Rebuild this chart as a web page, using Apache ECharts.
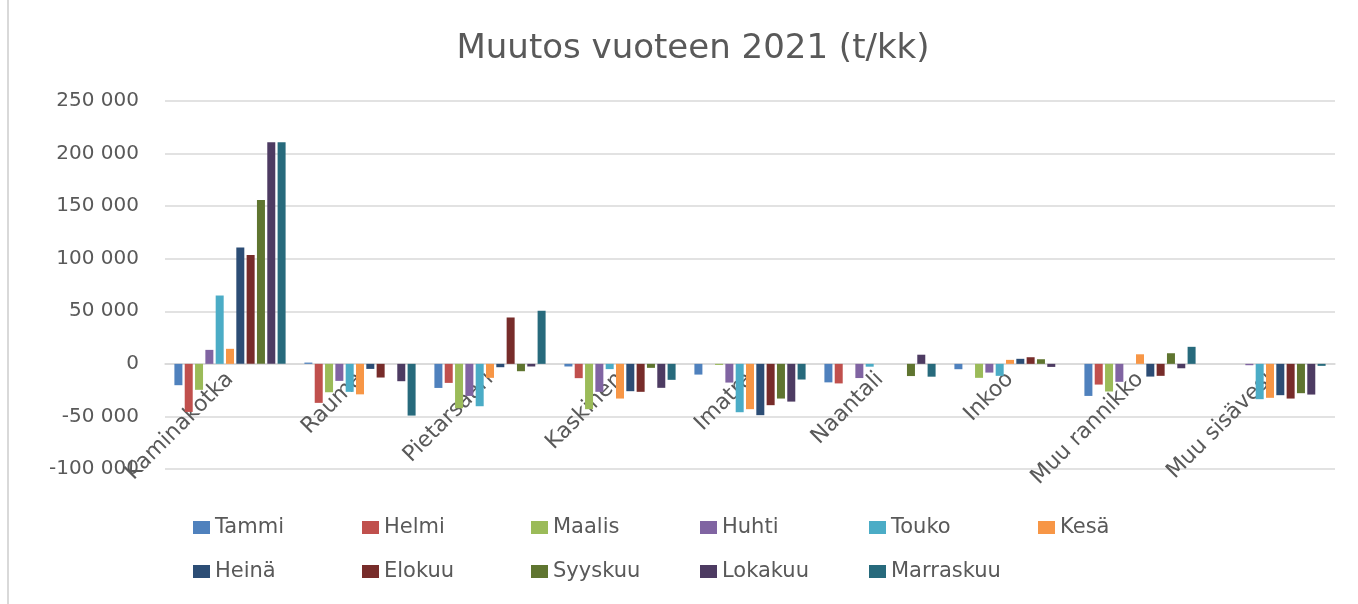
<!DOCTYPE html>
<html>
<head>
<meta charset="utf-8">
<script src="https://cdn.jsdelivr.net/npm/echarts@6/dist/echarts.min.js"></script>
<style>
  html, body { margin: 0; padding: 0; background: #fff; }
  #chart { width: 1358px; height: 604px; }
  #edge { position: absolute; left: 7px; top: 0; width: 2px; height: 604px; background: #d9d9d9; }
</style>
</head>
<body>
<div id="edge"></div>
<div id="chart"></div>
<script>
var categories = ["Kaminakotka", "Rauma", "Pietarsaari", "Kaskinen", "Imatra", "Naantali", "Inkoo", "Muu rannikko", "Muu sisävesi"];

var months = ["Tammi", "Helmi", "Maalis", "Huhti", "Touko", "Kesä", "Heinä", "Elokuu", "Syyskuu", "Lokakuu", "Marraskuu"];

var tammi     = [-20300, 1200, -22900, -2500, -10200, -17600, -5100, -30500, 0];
var helmi     = [-45700, -37100, -18100, -13600, 0, -18600, 0, -19700, 0];
var maalis    = [-24700, -27000, -42200, -43100, -1000, 0, -13300, -26300, 0];
var huhti     = [13300, -16200, -30500, -26600, -17800, -13500, -8300, -17100, -1300];
var touko     = [65000, -26600, -40300, -5000, -46000, -2700, -11400, 0, -33600];
var kesa      = [14300, -29000, -13300, -33000, -43100, 0, 3800, 9100, -32300];
var heina     = [110700, -4800, -3200, -26000, -48800, 0, 4800, -12100, -29800];
var elokuu    = [103500, -13000, 44100, -26600, -39300, 0, 6300, -11400, -33000];
var syyskuu   = [155800, 0, -7000, -3800, -33000, -11600, 4400, 10100, -27900];
var lokakuu   = [210700, -16500, -2500, -22800, -35900, 8700, -2900, -4200, -29200];
var marraskuu = [210700, -49200, 50500, -15200, -14900, -12200, 0, 16200, -1900];

var values = [tammi, helmi, maalis, huhti, touko, kesa, heina, elokuu, syyskuu, lokakuu, marraskuu];

var colors = ["#4F81BD", "#C0504D", "#9BBB59", "#8064A2", "#4BACC6", "#F79646",
              "#2C4D75", "#772C2A", "#5F7530", "#4D3B62", "#276A7C"];

var font = "DejaVu Sans";
var textColor = "#595959";

var yMin = -100000, yMax = 250000;
var gridTop = 101, gridBottom = 135;
var plotHeight = 604 - gridTop - gridBottom;
// lift the category axis up to the zero line (labels sit there in the original)
var zeroOffset = -plotHeight * (0 - yMin) / (yMax - yMin);

var chart = echarts.init(document.getElementById("chart"));

var series = [];
var legends = [];
for (var i = 0; i < months.length; i++) {
  series.push({
    name: months[i],
    type: "bar",
    data: values[i],
    barWidth: 8,
    barGap: "29%",
    itemStyle: { color: colors[i] }
  });
  // one legend per item so the columns line up like the original
  legends.push({
    data: [months[i]],
    left: 193 + (i % 6) * 169,
    top: i < 6 ? 517 : 561,
    padding: 0,
    icon: "rect",
    itemWidth: 17,
    itemHeight: 13,
    itemGap: 0,
    textStyle: { fontFamily: font, fontSize: 21, color: textColor }
  });
}

var option = {
  animation: false,
  color: colors,
  title: {
    text: "Muutos vuoteen 2021 (t/kk)",
    left: 688,
    textAlign: "center",
    top: 27,
    textStyle: { fontFamily: font, fontSize: 34, fontWeight: "normal", color: textColor }
  },
  legend: legends,
  grid: { left: 165, right: 23, top: gridTop, bottom: gridBottom, containLabel: false },
  xAxis: {
    type: "category",
    data: categories,
    offset: zeroOffset,
    axisLine: { onZero: false, lineStyle: { color: "#d9d9d9", width: 1.5 } },
    axisTick: { show: false },
    axisLabel: {
      rotate: 45,
      interval: 0,
      margin: 12,
      fontFamily: font,
      fontSize: 22,
      color: textColor
    }
  },
  yAxis: {
    type: "value",
    min: yMin,
    max: yMax,
    interval: 50000,
    axisLine: { show: false },
    axisTick: { show: false },
    splitLine: { lineStyle: { color: "#d9d9d9", width: 1.5 } },
    axisLabel: {
      margin: 26,
      fontFamily: font,
      fontSize: 20,
      color: textColor,
      formatter: function (v) {
        var s = String(Math.abs(v)).replace(/\B(?=(\d{3})+(?!\d))/g, " ");
        return (v < 0 ? "-" : "") + s;
      }
    }
  },
  series: series
};

chart.setOption(option);
</script>
</body>
</html>
